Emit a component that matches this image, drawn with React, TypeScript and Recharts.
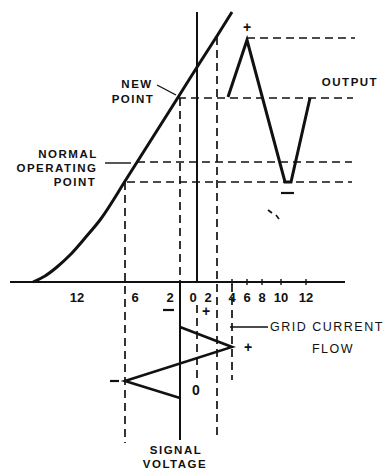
import {
  ComposedChart,
  Line,
  ReferenceDot,
  ReferenceLine,
  XAxis,
  YAxis,
} from "recharts";

// plot frame follows the drawing: x to the right, y downwards
const W = 392;
const H = 472;

const plateCurve = [
  { x: 33, y: 282 },
  { x: 45, y: 276 },
  { x: 57, y: 267 },
  { x: 70, y: 255 },
  { x: 85, y: 238 },
  { x: 100, y: 220 },
  { x: 127, y: 178 },
  { x: 177, y: 99 },
  { x: 199, y: 64 },
  { x: 217, y: 36 },
  { x: 232, y: 12 },
];

const outputWave = [
  { x: 228, y: 97 },
  { x: 247, y: 40 },
  { x: 285, y: 182 },
  { x: 291, y: 182 },
  { x: 310, y: 98 },
];

const signalWave = [
  { x: 180, y: 327 },
  { x: 232, y: 347 },
  { x: 125, y: 381 },
  { x: 180, y: 398 },
];

// [x1, y1, x2, y2]
const solidLines = [
  [10, 282, 345, 282],
  [197, 12, 197, 282],
  [180, 283, 180, 440],
  [230, 327, 268, 327],
  [157, 85, 176, 95],
  [105, 163, 131, 163],
];

const dashedLines = [
  [247, 38, 355, 38],
  [178, 98, 353, 98],
  [137, 162, 352, 162],
  [127, 182, 352, 182],
  [125, 182, 125, 443],
  [180, 98, 180, 282],
  [217, 37, 217, 440],
  [232, 284, 232, 380],
  [197, 305, 197, 382],
];

const minusBars = [
  [281, 193, 294, 193],
  [163, 310, 174, 310],
  [110, 381, 119, 381],
];

const axisTickX = [232, 247, 262, 281, 306];
const axisLabels = ["12", "6", "2", "0", "2", "4", "6", "8", "10", "12"];
const axisLabelX = [77, 135, 170, 193, 208, 232, 247, 262, 281, 306];

const captions = [
  { text: "NEW", x: 137, y: 84 },
  { text: "POINT", x: 133, y: 99 },
  { text: "NORMAL", x: 68, y: 154 },
  { text: "OPERATING", x: 57, y: 168 },
  { text: "POINT", x: 75, y: 182 },
  { text: "OUTPUT", x: 350, y: 82 },
  { text: "SIGNAL", x: 176, y: 450 },
  { text: "VOLTAGE", x: 175, y: 464 },
];

const signs = [
  { text: "+", x: 247, y: 27 },
  { text: "+", x: 248, y: 347 },
  { text: "+", x: 206, y: 311 },
  { text: "0", x: 196, y: 390 },
];

const INK = "#111";
const FONT = "'Liberation Sans', Arial, sans-serif";

function seg(s: number[], key: string, width: number, dash?: string) {
  return (
    <ReferenceLine
      key={key}
      segment={[
        { x: s[0], y: s[1] },
        { x: s[2], y: s[3] },
      ]}
      stroke={INK}
      strokeWidth={width}
      strokeDasharray={dash}
      ifOverflow="visible"
    />
  );
}

function word(
  key: string,
  text: string,
  x: number,
  y: number,
  size: number,
  weight: string | number,
  spacing = 0,
  position: "center" | "right" = "center"
) {
  return (
    <ReferenceDot
      key={key}
      x={x}
      y={y}
      r={0}
      fill="none"
      stroke="none"
      ifOverflow="visible"
      label={{
        value: text,
        position,
        offset: 0,
        fill: INK,
        fontSize: size,
        fontWeight: weight,
        fontFamily: FONT,
        letterSpacing: spacing,
      }}
    />
  );
}

export default function App() {
  return (
    <div style={{ position: "absolute", left: 0, top: 0, background: "#fff" }}>
      <ComposedChart
        width={W}
        height={H}
        margin={{ top: 0, right: 0, bottom: 0, left: 0 }}
      >
        <XAxis type="number" dataKey="x" domain={[0, W]} hide allowDataOverflow />
        <YAxis type="number" dataKey="y" domain={[0, H]} reversed hide allowDataOverflow />

        {dashedLines.map((s, i) => seg(s, `d${i}`, 1.7, "8 5"))}
        {solidLines.map((s, i) => seg(s, `s${i}`, i < 3 ? 2 : 1.4))}
        {minusBars.map((s, i) => seg(s, `m${i}`, 2.2))}
        {axisTickX.map((x, i) => seg([x, 279, x, 285], `t${i}`, 1.4))}
        {seg([268, 210, 272, 213], "n1", 1.6)}
        {seg([276, 215, 279, 219], "n2", 1.6)}

        <Line
          data={plateCurve}
          dataKey="y"
          type="monotone"
          stroke={INK}
          strokeWidth={3}
          dot={false}
          activeDot={false}
          isAnimationActive={false}
        />
        <Line
          data={outputWave}
          dataKey="y"
          type="linear"
          stroke={INK}
          strokeWidth={3}
          dot={false}
          activeDot={false}
          isAnimationActive={false}
        />
        <Line
          data={signalWave}
          dataKey="y"
          type="linear"
          stroke={INK}
          strokeWidth={2.6}
          dot={false}
          activeDot={false}
          isAnimationActive={false}
        />

        {axisLabels.map((t, i) => word(`a${i}`, t, axisLabelX[i], 297, 13, 700))}
        {captions.map((c, i) => word(`c${i}`, c.text, c.x, c.y, 11.5, 700, 1.5))}
        {signs.map((c, i) => word(`g${i}`, c.text, c.x, c.y, 14, 700))}
        {word("grid", "GRID  CURRENT", 270, 327, 12.5, 400, 1.5, "right")}
        {word("flow", "FLOW", 333, 349, 12.5, 400, 1.5)}
      </ComposedChart>
    </div>
  );
}
